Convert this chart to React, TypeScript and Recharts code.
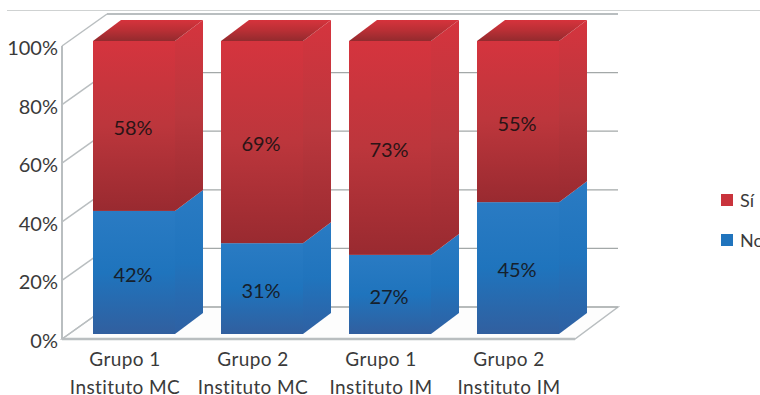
import React from "react";
import { BarChart, Bar, XAxis, YAxis, CartesianGrid, LabelList, Legend } from "recharts";

const grupos = ["Grupo 1", "Grupo 2", "Grupo 1", "Grupo 2"];
const institutos = ["Instituto MC", "Instituto MC", "Instituto IM", "Instituto IM"];
const noValues = [42, 31, 27, 45];
const siValues = [58, 69, 73, 55];
const percentTicks = [0, 20, 40, 60, 80, 100];

const chartData = grupos.map((g, i) => ({
  name: `${g}|${institutos[i]}`,
  No: noValues[i],
  Si: siValues[i],
}));

const FONT = "Lato, 'Open Sans', sans-serif";
const TEXT = "#3a3a3a";
const DEPTH_X = 28;
const DEPTH_Y = 21;

// Front face, side face and (for the top segment) the lid of one 3D bar
const Box3D = (props: any) => {
  const { x, y, width, height, tone, lid } = props;
  const r = x + width;
  const b = y + height;
  return (
    <g>
      <rect x={x} y={y} width={width} height={height} fill={`url(#${tone}Front)`} />
      <polygon
        points={`${r},${y} ${r + DEPTH_X},${y - DEPTH_Y} ${r + DEPTH_X},${b - DEPTH_Y} ${r},${b}`}
        fill={`url(#${tone}Side)`}
      />
      {lid && (
        <polygon
          points={`${x},${y} ${x + DEPTH_X},${y - DEPTH_Y} ${r + DEPTH_X},${y - DEPTH_Y} ${r},${y}`}
          fill={`url(#${tone}Lid)`}
        />
      )}
    </g>
  );
};

// Each horizontal grid line becomes: wall diagonal + back wall line (plus floor at 0%)
const WallLine = (props: any) => {
  const { x1, y1, index } = props;
  const wallX = x1 - 8;
  const backX = wallX + 45;
  const backY = y1 - 27;
  const frontY = y1 + 5;
  const isFloor = index === 0;
  const isTop = index === percentTicks.length - 1;
  return (
    <g>
      {isFloor && (
        <polygon
          points={`${wallX},${frontY} ${backX},${backY} 618,${backY} 575,${frontY}`}
          fill="#fdfdfd"
          stroke="#b9bec0"
          strokeWidth={1.5}
        />
      )}
      {isFloor && <line x1={wallX} y1={frontY} x2={575} y2={frontY} stroke="#b9bec0" strokeWidth={2.5} />}
      <line x1={wallX} y1={frontY} x2={backX} y2={backY} stroke="#b9bec0" strokeWidth={1.5} />
      <line x1={backX} y1={backY} x2={618} y2={backY} stroke={isTop ? "#b9bec0" : "#a3a8a8"} strokeWidth={isTop ? 2 : 1.2} />
      {isTop && <line x1={wallX} y1={frontY} x2={wallX} y2={frontY + 293} stroke="#b9bec0" strokeWidth={2} />}
    </g>
  );
};

const PercentTick = (props: any) => {
  const { y, payload } = props;
  return (
    <text x={58} y={y + 14} textAnchor="end" fontFamily={FONT} fontSize={20} fill={TEXT}>
      {`${payload.value}%`}
    </text>
  );
};

const GroupTick = (props: any) => {
  const { x, payload } = props;
  const [line1, line2] = String(payload.value).split("|");
  return (
    <g fontFamily={FONT} fontSize={19} fill={TEXT} textAnchor="middle" letterSpacing={0.4}>
      <text x={x - 9} y={366}>{line1}</text>
      <text x={x - 9} y={394}>{line2}</text>
    </g>
  );
};

const LegendBox = (props: any) => {
  const items = [...(props.payload || [])].reverse();
  return (
    <div>
      {items.map((item: any) => (
        <div key={item.value} style={{ display: "flex", alignItems: "center", height: 40, whiteSpace: "nowrap" }}>
          <span
            style={{
              width: 12,
              height: 12,
              marginRight: 7,
              flex: "none",
              background: item.color,
            }}
          />
          <span style={{ fontFamily: FONT, fontSize: 18, color: TEXT }}>{item.value}</span>
        </div>
      ))}
    </div>
  );
};

const gradient = (id: string, top: string, mid: string, bottom: string) => (
  <linearGradient id={id} x1="0" y1="0" x2="0" y2="1">
    <stop offset="0%" stopColor={top} />
    <stop offset="50%" stopColor={mid} />
    <stop offset="100%" stopColor={bottom} />
  </linearGradient>
);

export default function App() {
  return (
    <div style={{ position: "relative", width: 760, height: 395, overflow: "hidden", background: "#fff" }}>
      <style>{"body{margin:0}"}</style>
      <div style={{ position: "absolute", left: 7, right: 0, top: 10, height: 1, background: "#cfd2d2" }} />
      <BarChart
        width={760}
        height={395}
        data={chartData}
        margin={{ top: 41, right: 178, bottom: 0, left: 0 }}
        barSize={82}
        style={{ position: "absolute", left: 0, top: 0 }}
      >
        <defs>
          {gradient("redFront", "#d5343e", "#bc363c", "#992a30")}
          {gradient("redSide", "#d5343e", "#ba373d", "#992a30")}
          {gradient("redLid", "#d6333c", "#b92f35", "#932a2e")}
          {gradient("blueFront", "#2a7bc3", "#1f74bd", "#315f9f")}
          {gradient("blueSide", "#2a7bc3", "#2074bd", "#2f60a2")}
          {gradient("blueLid", "#2a7bc3", "#2074bd", "#2f60a2")}
        </defs>
        <CartesianGrid horizontal={WallLine} vertical={false} />
        <XAxis dataKey="name" axisLine={false} tickLine={false} tick={GroupTick} interval={0} height={61} />
        <YAxis
          width={70}
          domain={[0, 100]}
          ticks={percentTicks}
          axisLine={false}
          tickLine={false}
          tick={PercentTick}
        />
        <Legend
          layout="vertical"
          align="center"
          verticalAlign="middle"
          content={LegendBox}
          wrapperStyle={{ position: "absolute", left: 721, top: 180, width: 39, height: 80, overflow: "hidden" }}
        />
        <Bar dataKey="No" name="No" stackId="a" fill="#2074bd" isAnimationActive={false} shape={(p: any) => <Box3D {...p} tone="blue" />}>
          <LabelList dataKey="No" position="center" formatter={(v: any) => `${v}%`} fill="#16202c" fontFamily={FONT} fontSize={20} dy={2} dx={-1} />
        </Bar>
        <Bar dataKey="Si" name="Sí" stackId="a" fill="#c9333c" isAnimationActive={false} shape={(p: any) => <Box3D {...p} tone="red" lid />}>
          <LabelList dataKey="Si" position="center" formatter={(v: any) => `${v}%`} fill="#2a1416" fontFamily={FONT} fontSize={20} dy={2} dx={-1} />
        </Bar>
      </BarChart>
    </div>
  );
}
